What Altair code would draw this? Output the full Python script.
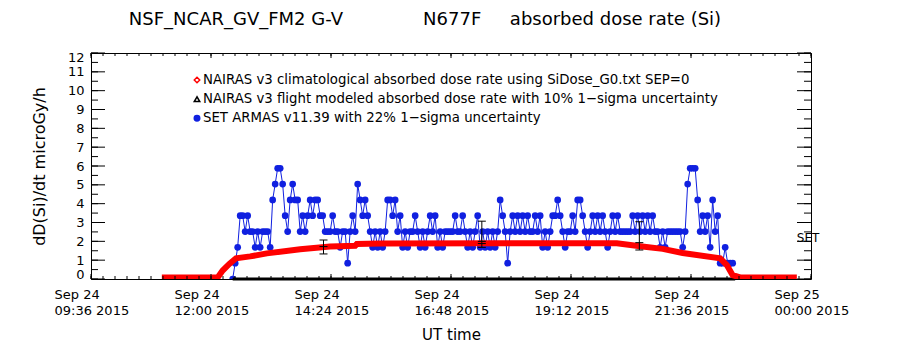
import altair as alt
import numpy as np
import pandas as pd

FONT = "DejaVu Sans"
BLUE = "#1020e0"
RED = "#ff0000"

# ---------------- data (UT minutes after 2015-09-24 00:00) ----------------
# NAIRAS v3 climatological absorbed dose rate (red)
clim_min = [661, 728, 734, 742, 750, 767, 787, 827, 863, 893, 895, 923,
            1067, 1207, 1235, 1262, 1286, 1331, 1339, 1346, 1355, 1423]
clim_dose = [0.08, 0.08, 0.45, 0.8, 1.1, 1.2, 1.36, 1.58, 1.72, 1.76, 1.86, 1.88,
             1.9, 1.9, 1.74, 1.6, 1.38, 1.1, 0.74, 0.2, 0.08, 0.08]

# NAIRAS v3 flight modeled absorbed dose rate (black)
flight_min = [746, 1349]
flight_dose = [0.0, 0.0]

# SET ARMAS v11.39 (blue): quantised dose counts, one sample every 3 min from 12:26 UT
armas_first_min = 746
armas_step_min = 3
armas_dose_per_count = 0.84
armas_counts = [
    0, 1, 2, 4, 4, 3, 4, 3, 3, 2,
    3, 2, 3, 3, 3, 2, 5, 6, 7, 7,
    6, 4, 3, 5, 6, 5, 5, 3, 4, 3,
    4, 5, 4, 5, 5, 4, 4, 3, 3, 3,
    4, 3, 3, 2, 3, 3, 1, 3, 4, 3,
    6, 5, 4, 5, 4, 3, 2, 3, 2, 3,
    2, 3, 5, 5, 4, 5, 3, 4, 2, 3,
    2, 3, 3, 4, 3, 2, 3, 2, 3, 4,
    3, 4, 2, 3, 2, 3, 3, 3, 3, 4,
    3, 3, 4, 3, 2, 3, 2, 3, 4, 2,
    3, 2, 3, 2, 3, 2, 3, 5, 4, 3,
    1, 3, 4, 3, 4, 3, 4, 3, 4, 3,
    3, 4, 3, 4, 2, 3, 2, 3, 4, 4,
    5, 4, 3, 2, 3, 3, 4, 3, 5, 5,
    4, 3, 2, 3, 4, 3, 4, 3, 4, 3,
    2, 3, 4, 3, 4, 3, 3, 3, 3, 3,
    4, 3, 4, 3, 4, 3, 4, 3, 4, 3,
    3, 2, 3, 2, 3, 3, 3, 3, 3, 3,
    2, 3, 6, 7, 7, 7, 5, 3, 4, 3,
    4, 2, 5, 3, 4, 1, 1, 2, 1, 1,
    1,
]

# representative error bars
err_min = [855, 1045, 1234]
err_lo = [1.33, 1.68, 1.54]
err_hi = [2.07, 3.07, 3.04]
err_mid_min = [855, 1045, 1045, 1234]
err_mid = [1.72, 2.0, 1.88, 1.93]

# "SET" tag at the end of the flight
set_tag_min = [1423]
set_tag_dose = [2.2]
set_tag_text = ["SET"]

legend_labels = [
    "NAIRAS v3 climatological absorbed dose rate using SiDose_G0.txt SEP=0",
    "NAIRAS v3 flight modeled absorbed dose rate with 10% 1\u2212sigma uncertainty",
    "SET ARMAS v11.39 with 22% 1\u2212sigma uncertainty",
]

# axes
x_major_hours = [9.6, 12.0, 14.4, 16.8, 19.2, 21.6, 24.0]
x_minor_step_hours = 0.24
y_major = list(range(0, 13))
y_minor_step = 0.5

title_text = ("NSF_NCAR_GV_FM2 G-V" + "\u00a0" * 14 + "N677F" + "\u00a0" * 5
              + "absorbed dose rate (Si)")

# ---------------- frames ----------------
red_df = pd.DataFrame({"t": np.array(clim_min) / 60.0, "v": clim_dose})
black_df = pd.DataFrame({"t": np.array(flight_min) / 60.0, "v": flight_dose})
armas_df = pd.DataFrame({
    "t": [(armas_first_min + armas_step_min * i) / 60.0 for i in range(len(armas_counts))],
    "v": np.array(armas_counts) * armas_dose_per_count,
})
err_df = pd.DataFrame({"t": np.array(err_min) / 60.0, "lo": err_lo, "hi": err_hi})
mid_df = pd.DataFrame({"t": np.array(err_mid_min) / 60.0, "mid": err_mid})
set_df = pd.DataFrame({"t": np.array(set_tag_min) / 60.0, "v": set_tag_dose, "txt": set_tag_text})

x_minor = np.round(np.arange(x_major_hours[0], x_major_hours[-1] + 1e-6, x_minor_step_hours), 4)
y_minor = np.arange(0, 12 + 1e-6, y_minor_step)
xmaj_df = pd.DataFrame({"t": x_major_hours})
xmin_df = pd.DataFrame({"t": x_minor})
ymaj_df = pd.DataFrame({"v": y_major})
ymin_df = pd.DataFrame({"v": y_minor})

W, H = 720, 226

x_scale = alt.Scale(domain=[x_major_hours[0], x_major_hours[-1]], nice=False, zero=False)
y_scale = alt.Scale(domain=[0, 12], nice=False)

hh = "(floor(datum.value + 1e-6) % 24)"
mm = "round((datum.value - floor(datum.value + 1e-6)) * 60)"
label_expr = (
    "[datum.value >= 23.999 ? 'Sep 25' : 'Sep 24', "
    f"({hh} < 10 ? '0' : '') + {hh} + ':' + ({mm} < 10 ? '0' : '') + {mm} + ' 2015']"
)

x_axis = alt.Axis(
    values=x_major_hours, labelExpr=label_expr, labelAlign="left", labelOffset=-37,
    labelBaseline="top", labelPadding=9, labelLineHeight=16, labelFontSize=13,
    labelFont=FONT, labelColor="black", labelFlush=False, labelOverlap=False,
    ticks=False, tickSize=0, domain=False, grid=False,
    title="UT time", titleFont=FONT, titleFontSize=15, titleFontWeight="normal",
    titleColor="black", titlePadding=10,
)
y_axis = alt.Axis(
    values=y_major, labelFlush=True, labelFlushOffset=2, labelPadding=7, labelFontSize=13,
    labelFont=FONT, labelColor="black", labelOverlap=False, ticks=False, tickSize=0,
    domain=False, grid=False,
    title="dD(Si)/dt microGy/h", titleFont=FONT, titleFontSize=16, titleFontWeight="normal",
    titleColor="black", titlePadding=20,
)


def X(field="t"):
    return alt.X(f"{field}:Q", scale=x_scale, axis=x_axis)


def Y(field="v"):
    return alt.Y(f"{field}:Q", scale=y_scale, axis=y_axis)


blue_line = alt.Chart(armas_df).mark_line(color=BLUE, strokeWidth=1, clip=True).encode(x=X(), y=Y())
blue_pts = alt.Chart(armas_df).mark_point(filled=True, shape="circle", size=45, clip=True,
                                          color=BLUE, opacity=1).encode(x=X(), y=Y())
black_line = alt.Chart(black_df).mark_line(color="black", strokeWidth=3).encode(x=X(), y=Y())
red_line = alt.Chart(red_df).mark_line(color=RED, strokeWidth=6, clip=True).encode(x=X(), y=Y())

err_rule = alt.Chart(err_df).mark_rule(color="black", strokeWidth=1).encode(
    x=X(), y=Y("lo"), y2=alt.Y2("hi"))
cap_lo = alt.Chart(err_df).mark_rule(color="black", strokeWidth=1, xOffset=-4, x2Offset=4).encode(
    x=X(), x2=alt.X2("t"), y=Y("lo"))
cap_hi = alt.Chart(err_df).mark_rule(color="black", strokeWidth=1, xOffset=-4, x2Offset=4).encode(
    x=X(), x2=alt.X2("t"), y=Y("hi"))
cap_mid = alt.Chart(mid_df).mark_rule(color="black", strokeWidth=1, xOffset=-4, x2Offset=4).encode(
    x=X(), x2=alt.X2("t"), y=Y("mid"))

set_text = alt.Chart(set_df).mark_text(align="left", baseline="middle", font=FONT,
                                       fontSize=12, color="black").encode(
    x=X(), y=Y(), text="txt:N")

# inward tick marks on all four sides
tick_layers = []
for df, L in ((ymaj_df, 14), (ymin_df, 7)):
    tick_layers.append(alt.Chart(df).mark_rule(color="black").encode(
        y=Y(), x=alt.value(0), x2=alt.value(L)))
    tick_layers.append(alt.Chart(df).mark_rule(color="black").encode(
        y=Y(), x=alt.value(W), x2=alt.value(W - L)))
for df, L in ((xmaj_df, 5), (xmin_df, 3)):
    tick_layers.append(alt.Chart(df).mark_rule(color="black").encode(
        x=X(), y=alt.value(H), y2=alt.value(H - L)))
    tick_layers.append(alt.Chart(df).mark_rule(color="black").encode(
        x=X(), y=alt.value(0), y2=alt.value(L)))

data_group = alt.layer(blue_line, blue_pts, black_line, red_line, err_rule, cap_lo, cap_hi,
                       cap_mid, set_text, *tick_layers)

# in-plot legend
legend_df = pd.DataFrame({"label": legend_labels})
ly = alt.Y("label:N", scale=alt.Scale(type="point", domain=legend_labels, range=[27, 65.3],
                                      padding=0), axis=None)
leg_text = alt.Chart(legend_df).mark_text(align="left", baseline="middle", font=FONT,
                                          fontSize=13.3, color="black").encode(
    x=alt.value(112), y=ly, text="label:N")
leg_sym = alt.Chart(legend_df).mark_point(filled=True, size=30, strokeWidth=1.5, opacity=1).encode(
    x=alt.value(106), y=ly,
    shape=alt.Shape("label:N", scale=alt.Scale(domain=legend_labels,
                                               range=["diamond", "triangle-up", "circle"]), legend=None),
    stroke=alt.Stroke("label:N", scale=alt.Scale(domain=legend_labels,
                                                 range=[RED, "black", BLUE]), legend=None),
    fill=alt.Fill("label:N", scale=alt.Scale(domain=legend_labels,
                                             range=["white", "white", BLUE]), legend=None),
)
legend_group = alt.layer(leg_sym, leg_text)

chart = alt.layer(data_group, legend_group).resolve_scale(y="independent").properties(
    width=W, height=H,
    autosize=alt.AutoSizeParams(type="none"),
    padding={"left": 91, "top": 53, "right": 89, "bottom": 71},
    title=alt.TitleParams(text=title_text, font=FONT, fontSize=18, fontWeight="normal",
                          color="black", anchor="middle", baseline="alphabetic", offset=8,
                          dx=-26),
    background="white",
).configure_view(stroke="black", strokeWidth=1)

chart.save("out.html", embed_options={"renderer": "svg", "actions": False})
